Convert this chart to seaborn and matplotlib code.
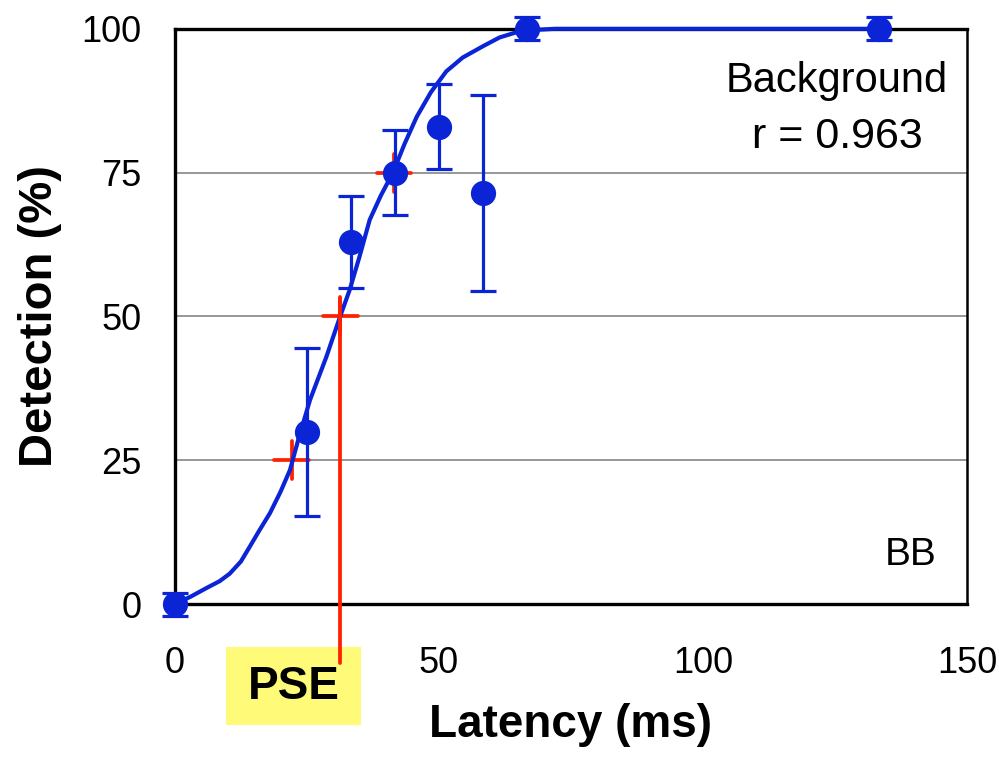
import matplotlib
matplotlib.use("Agg")
import matplotlib.pyplot as plt
from matplotlib.patches import Rectangle
import seaborn as sns
import pandas as pd

# measured detection per latency (frames of 8.33 ms)
latency = [0, 25, 33.3, 41.7, 50, 58.3, 66.7, 133.3]
detection = [0, 30, 63, 75, 83, 71.5, 100, 100]
err = [2, 14.6, 8, 7.4, 7.4, 17, 2, 2]

# fitted psychometric curve
fit_x = [0, 3, 6, 8.5, 10.4, 12.5, 14.2, 16, 18, 20, 21.8, 23.5, 25.6, 28.7,
         31.3, 33.1, 35, 36.9, 39, 41.3, 43.5, 45.8, 48.5, 51.4, 54.5, 58.4,
         61.5, 64.7, 68, 72, 85, 100, 133.3]
fit_y = [0, 1.3, 2.8, 4.0, 5.3, 7.4, 10, 12.8, 15.8, 19.5, 23.3, 29, 35.5, 43,
         50, 54.6, 60.5, 66.8, 71, 75, 80, 84.7, 89, 92.6, 95, 97,
         98.5, 99.4, 99.8, 100, 100, 100, 100]

# threshold crosses at 25/50/75 %
thr_x = [22.1, 31.3, 41.5]
thr_y = [25, 50, 75]
pse = 31.3

BLUE = "#0A24D6"
RED = "#FF2000"

sns.set_style("white")
plt.rcParams["font.family"] = ["Liberation Sans", "DejaVu Sans"]
plt.rcParams["text.color"] = "black"
plt.rcParams["axes.labelcolor"] = "black"

fig = plt.figure(figsize=(9.99, 7.58), dpi=100)
ax = fig.add_axes([0.175, 0.203, 0.793, 0.759])

ax.set_xlim(0, 150)
ax.set_ylim(0, 100)

for g in [25, 50, 75]:
    ax.axhline(g, color="#858585", lw=1.2, zorder=1)

df = pd.DataFrame({"x": fit_x, "y": fit_y})
sns.lineplot(data=df, x="x", y="y", sort=False, estimator=None,
             color=BLUE, lw=3.0, ax=ax, zorder=3, clip_on=False)

# red threshold crosses
for tx, ty in zip(thr_x, thr_y):
    ax.plot([tx - 3.3, tx + 3.3], [ty, ty], color=RED, lw=2.7, zorder=2)
    ax.plot([tx, tx], [ty - 3.3, ty + 3.3], color=RED, lw=2.7, zorder=2)

ax.errorbar(latency, detection, yerr=err, fmt="none", ecolor=BLUE,
            elinewidth=2.3, capsize=9.5, capthick=2.3, zorder=4, clip_on=False)
sns.scatterplot(x=latency, y=detection, color=BLUE, s=330, edgecolor=BLUE,
                linewidth=0, ax=ax, zorder=5, clip_on=False)

# PSE label box below the axis
box = Rectangle((226 / 999, 1 - 725 / 758), 135 / 999, 78 / 758,
                transform=fig.transFigure, facecolor="#FFFA78",
                edgecolor="none", zorder=6, clip_on=False)
ax.add_patch(box)
ax.text(293.5 / 999, 1 - 687 / 758, "PSE", fontsize=33, fontweight="bold",
        ha="center", va="center", zorder=7, transform=fig.transFigure)
ax.plot([pse, pse], [53, -10.3], color=RED, lw=2.7, zorder=8, clip_on=False)

ax.text(125.4, 89, "Background", fontsize=30, ha="center", va="baseline")
ax.text(125.4, 79.3, "r = 0.963", fontsize=31, ha="center", va="baseline")
ax.text(144.3, 6.8, "BB", fontsize=28, ha="right", va="baseline")

ax.set_xticks([0, 50, 100, 150])
ax.set_yticks([0, 25, 50, 75, 100])
ax.tick_params(axis="both", direction="out", length=8, width=1.2,
               color="#999999", labelsize=26, labelcolor="black")
ax.tick_params(axis="x", pad=22)
ax.tick_params(axis="y", pad=16)
ax.set_xlabel("Latency (ms)", fontsize=33, fontweight="bold", labelpad=16)
ax.set_ylabel("Detection (%)", fontsize=34, fontweight="bold", labelpad=14)

for side in ["left", "bottom", "top"]:
    ax.spines[side].set_linewidth(2.4)
    ax.spines[side].set_color("black")
ax.spines["right"].set_linewidth(1.8)
ax.spines["right"].set_color("black")
for sp in ax.spines.values():
    sp.set_zorder(2.5)

fig.savefig("out.png", dpi=100)
